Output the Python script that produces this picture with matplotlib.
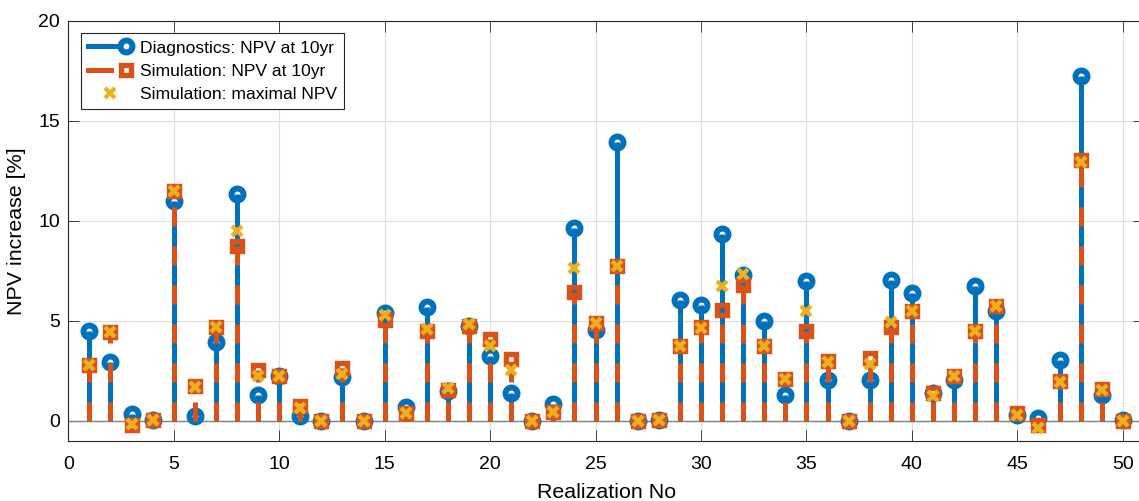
import numpy as np
import matplotlib
matplotlib.use("Agg")
import matplotlib.pyplot as plt
from matplotlib.lines import Line2D
from matplotlib.legend_handler import HandlerLine2D

plt.rcParams['font.family'] = ['Liberation Sans', 'DejaVu Sans']
plt.rcParams['lines.scale_dashes'] = False

realization = np.arange(1, 51)
npv_diag = [4.5, 2.93, 0.35, 0.05, 11.0, 0.22, 3.95, 11.33, 1.27, 2.22,
            0.22, 0.0, 2.2, 0.0, 5.38, 0.68, 5.67, 1.5, 4.72, 3.25,
            1.38, 0.0, 0.85, 9.63, 4.55, 13.93, 0.0, 0.05, 6.02, 5.77,
            9.35, 7.3, 4.97, 1.3, 7.0, 2.02, 0.0, 2.02, 7.02, 6.37,
            1.38, 2.05, 6.72, 5.47, 0.3, 0.13, 3.05, 17.22, 1.27, 0.05]
npv_sim10 = [2.8, 4.42, -0.2, 0.05, 11.5, 1.75, 4.68, 8.75, 2.55, 2.25,
             0.75, 0.0, 2.65, 0.0, 5.05, 0.38, 4.47, 1.55, 4.72, 4.1,
             3.08, 0.0, 0.42, 6.43, 4.88, 7.75, 0.0, 0.05, 3.72, 4.68,
             5.52, 6.8, 3.75, 2.08, 4.5, 2.97, 0.0, 3.13, 4.7, 5.47,
             1.38, 2.22, 4.47, 5.75, 0.38, -0.2, 1.97, 13.05, 1.58, 0.0]
npv_simmax = [2.8, 4.45, -0.17, 0.05, 11.5, 1.7, 4.7, 9.47, 2.22, 2.25,
              0.65, 0.0, 2.33, 0.0, 5.3, 0.38, 4.57, 1.63, 4.85, 3.75,
              2.52, 0.0, 0.42, 7.63, 4.9, 7.75, 0.0, 0.05, 3.72, 4.63,
              6.72, 7.35, 3.75, 2.08, 5.5, 2.93, 0.0, 2.85, 4.95, 5.5,
              1.25, 2.22, 4.5, 5.72, 0.3, -0.37, 1.92, 12.92, 1.55, 0.0]
xticks = [0, 5, 10, 15, 20, 25, 30, 35, 40, 45, 50]
yticks = [0, 5, 10, 15, 20]
labels = ['Diagnostics: NPV at 10yr', 'Simulation: NPV at 10yr', 'Simulation: maximal NPV']

BLUE = '#0072BD'
ORANGE = '#D95319'
YELLOW = '#EDB120'
AX = '#262626'

fig = plt.figure(figsize=(11.39, 5.01), dpi=100)
ax = fig.add_axes([68.3 / 1139, 60.3 / 501, 1075.6 / 1139, 420 / 501])

ax.set_xlim(0, 51)
ax.set_ylim(-1, 20)
ax.set_xticks(xticks)
ax.set_yticks(yticks)
ax.grid(True, color='#dedede', linewidth=0.8, zorder=0)
ax.set_axisbelow(True)

# baseline
ax.axhline(0, color='#808080', linewidth=1.0, zorder=1)

lw = 3.6
dash = (0, (13.7, 14.4))
MS_O, MEW_O = 8.6, 4.3
MS_S, MEW_S = 6.9, 3.9
MS_X, MEW_X = 7.6, 3.1

# Diagnostics stems
ax.vlines(realization, 0, npv_diag, colors=BLUE, linewidth=lw, zorder=2)
ax.plot(realization, npv_diag, linestyle='none', marker='o', ms=MS_O, mew=MEW_O,
        mec=BLUE, mfc='none', zorder=3)
# Simulation NPV stems
ax.vlines(realization, 0, npv_sim10, colors=ORANGE, linewidth=lw, linestyles=[dash], zorder=4)
ax.plot(realization, npv_sim10, linestyle='none', marker='s', ms=MS_S, mew=MEW_S,
        mec=ORANGE, mfc='none', zorder=5)
# Simulation max
ax.plot(realization, npv_simmax, linestyle='none', marker='x', ms=MS_X, mew=MEW_X,
        color=YELLOW, zorder=6)

for s in ax.spines.values():
    s.set_color(AX)
    s.set_linewidth(0.8)
ax.tick_params(direction='in', length=7.9, width=0.6, colors=AX, labelcolor='black',
               labelsize=14, top=True, right=True, pad=11)
ax.tick_params(axis='y', pad=6)

ax.set_xlabel('Realization No', fontsize=15.4, labelpad=7)
ax.set_ylabel('NPV increase [%]', fontsize=15.4, labelpad=9)


class StemHandle(HandlerLine2D):
    """Line ending at the marker, marker at the right end (MATLAB style)."""
    def __init__(self, ms_pt, line_end=None, **kw):
        super().__init__(**kw)
        self.ms_pt = ms_pt
        self.line_end = line_end

    def create_artists(self, legend, orig_handle, xdescent, ydescent, width,
                       height, fontsize, trans):
        pad = 0.35 * fontsize
        x0 = -xdescent
        xm = -xdescent + width - pad
        r = self.ms_pt / 2.0
        xe = xm - r if self.line_end is None else x0 + self.line_end * width
        y = (height - ydescent) / 2.0
        line = Line2D([x0, xe], [y, y])
        line.update_from(orig_handle)
        line.set_marker('None')
        line.set_transform(trans)
        mk = Line2D([xm], [y])
        mk.update_from(orig_handle)
        mk.set_linestyle('None')
        mk.set_transform(trans)
        return [line, mk]


h1 = Line2D([], [], color=BLUE, linewidth=lw, marker='o', ms=MS_O, mew=MEW_O, mfc='white', mec=BLUE)
h2 = Line2D([], [], color=ORANGE, linewidth=lw, linestyle='-', marker='s', ms=MS_S, mew=MEW_S,
            mfc='white', mec=ORANGE)
h3 = Line2D([], [], color=YELLOW, linestyle='none', marker='x', ms=MS_X, mew=MEW_X)
leg = ax.legend([h1, h2, h3], labels, loc='upper left',
                bbox_to_anchor=(0.0118, 0.970), borderaxespad=0, fontsize=12.6,
                handlelength=2.5, handletextpad=0.45, labelspacing=0.46,
                borderpad=0.4, fancybox=False, framealpha=1, edgecolor=AX,
                handler_map={h1: StemHandle(MS_O), h2: StemHandle(MS_S, line_end=0.52)})
leg.get_frame().set_linewidth(0.8)
leg.set_zorder(10)

fig.savefig('out.png', dpi=100)
